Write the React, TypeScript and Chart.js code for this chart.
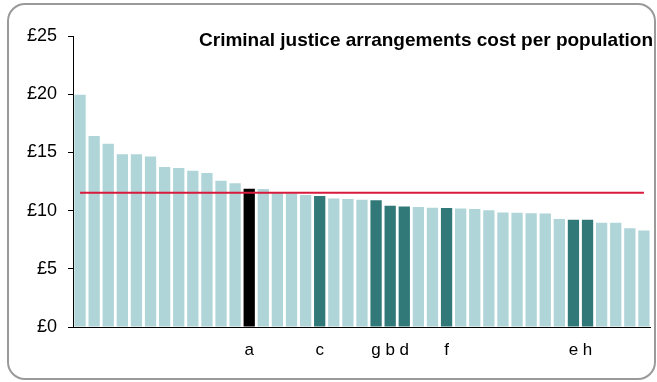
import React, { useEffect, useRef } from "react";
import { Chart, registerables } from "chart.js";

Chart.register(...registerables);

const categories: string[] = [
  "", "", "", "", "", "", "", "", "", "", "", "", "a", "", "", "", "", "c", "", "", "",
  "g", "b", "d", "", "", "f", "", "", "", "", "", "", "", "", "e", "h", "", "", "", "",
];

const costValues: number[] = [
  19.95, 16.4, 15.75, 14.85, 14.85, 14.65, 13.75, 13.66, 13.43, 13.23, 12.57, 12.34,
  11.88, 11.85, 11.55, 11.5, 11.34, 11.25, 11.05, 10.99, 10.93, 10.88, 10.41, 10.36,
  10.3, 10.24, 10.22, 10.19, 10.13, 10.04, 9.84, 9.81, 9.78, 9.76, 9.27, 9.21, 9.21,
  8.95, 8.95, 8.49, 8.29,
];

const averageValue = 11.53;

const yTicks: number[] = [0, 5, 10, 15, 20, 25];

const title = "Criminal justice arrangements cost per population";

const LIGHT = "#AFD5D8";
const DARK = "#317878";
const BLACK = "#000000";
const RED = "#D81B3C";

const titlePlugin = {
  id: "innerTitle",
  afterDraw(chart: any) {
    const ctx = chart.ctx;
    ctx.save();
    ctx.font = "bold 19px 'Liberation Sans', Arial, sans-serif";
    ctx.fillStyle = "#000";
    ctx.textAlign = "right";
    ctx.textBaseline = "alphabetic";
    ctx.fillText(title, 653, 46);
    ctx.restore();
  },
};

export default function App() {
  const ref = useRef<HTMLCanvasElement>(null);
  useEffect(() => {
    if (!ref.current) return;
    const colors = categories.map((c, i) =>
      c === "a" ? BLACK : c !== "" ? DARK : LIGHT
    );
    const chart = new Chart(ref.current, {
      type: "bar",
      data: {
        labels: categories,
        datasets: [
          {
            type: "line",
            data: categories.map(() => averageValue),
            borderColor: RED,
            borderWidth: 2,
            pointRadius: 0,
            order: 0,
          } as any,
          {
            type: "bar",
            data: costValues,
            backgroundColor: colors,
            categoryPercentage: 1,
            barPercentage: 0.8,
            order: 1,
          },
        ],
      },
      options: {
        animation: false,
        responsive: false,
        maintainAspectRatio: false,
        events: [],
        layout: { padding: { left: 0, right: 6, top: 36, bottom: 0 } },
        plugins: {
          legend: { display: false },
          tooltip: { enabled: false },
          title: { display: false },
        },
        scales: {
          x: {
            offset: true,
            grid: { display: false, drawTicks: false },
            border: { display: true, color: "#000", width: 1 },
            ticks: {
              autoSkip: false,
              maxRotation: 0,
              minRotation: 0,
              padding: 13,
              color: "#000",
              font: { family: "'Liberation Sans', Arial, sans-serif", size: 17 },
            },
            afterFit(scale: any) {
              scale.height = 55;
            },
          },
          y: {
            min: 0,
            max: 25,
            afterBuildTicks(scale: any) {
              scale.ticks = yTicks.map((v) => ({ value: v }));
            },
            grid: {
              display: true,
              drawOnChartArea: false,
              drawTicks: true,
              tickLength: 5,
              color: "#000",
            },
            border: { display: true, color: "#000", width: 1 },
            ticks: {
              padding: 11,
              color: "#000",
              font: { family: "'Liberation Sans', Arial, sans-serif", size: 18 },
              callback: (v: any) => "£" + v,
            },
            afterFit(scale: any) {
              scale.width = 73;
            },
          },
        },
      },
      plugins: [titlePlugin],
    });
    return () => chart.destroy();
  }, []);

  return (
    <div style={{ position: "absolute", left: 0, top: 0, width: 657, height: 382, background: "#fff" }}>
      <canvas ref={ref} width={657} height={382} style={{ position: "absolute", left: 0, top: 0, width: 657, height: 382 }} />
      <div
        style={{
          position: "absolute",
          left: 7,
          top: 3,
          width: 645,
          height: 373,
          border: "2px solid #9a9a9a",
          borderRadius: 18,
          pointerEvents: "none",
        }}
      />
    </div>
  );
}
